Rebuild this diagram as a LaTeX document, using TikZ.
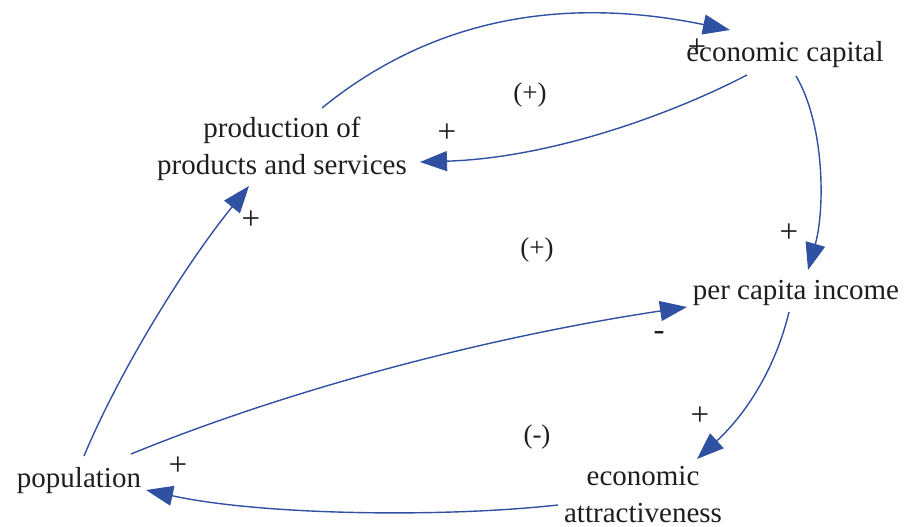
\documentclass[tikz,border=0pt]{standalone}
\usepackage{fontspec}
\setmainfont{Liberation Serif}
\usetikzlibrary{arrows.meta}
\definecolor{linkblue}{RGB}{48,80,162}
\definecolor{txt}{RGB}{30,30,30}
\begin{document}
\begin{tikzpicture}[x=1pt,y=-1pt,
  var/.style={text=txt,font=\fontsize{29}{37}\selectfont,align=center,inner sep=0pt},
  sgn/.style={text=txt,font=\fontsize{33}{33}\selectfont,inner sep=0pt},
  loopl/.style={text=txt,font=\fontsize{27}{30}\selectfont,inner sep=0pt},
  link/.style={draw=linkblue,line width=1.4pt,-{Triangle[length=27pt,width=20pt]}}]
\useasboundingbox (0,0) rectangle (906,527);
\node[var] (ecap) at (785,55) {economic capital};
\node[var] (prod) at (282,149) {production of\\products and services};
\node[var] (pci) at (796,293) {per capita income};
\node[var] (pop) at (79,481) {population};
\node[var] (eatt) at (643,495) {economic\\attractiveness};
\node[loopl] (l1) at (530,95) {(+)};
\node[loopl] (l2) at (537,250) {(+)};
\node[loopl] (l3) at (537,437) {(-)};
\node[sgn] (s1) at (697,48) {+};
\node[sgn] (s2) at (447,133) {+};
\node[sgn] (s3) at (251,220) {+};
\node[sgn] (s4) at (789,233) {+};
\node[sgn] (s5) at (659,336) {-};
\node[sgn] (s6) at (700,416) {+};
\node[sgn] (s7) at (178,466) {+};
% production -> economic capital
\draw[link] ([shift={(40,-41)}]prod.center) .. controls (430,20) and (560,-5) .. ([shift={(-55,-25)}]ecap.center);
% economic capital -> production
\draw[link] ([shift={(-38,20)}]ecap.center) .. controls (670,115) and (550,158) .. ([shift={(138,13)}]prod.center);
% economic capital -> per capita income
\draw[link] ([shift={(11,21)}]ecap.center) .. controls (825,125) and (825,210) .. ([shift={(12,-23)}]pci.center);
% per capita income -> economic attractiveness
\draw[link] ([shift={(-7,19)}]pci.center) .. controls (775,370) and (745,415) .. ([shift={(54,-36)}]eatt.center);
% population -> per capita income
\draw[link] ([shift={(52,-27)}]pop.center) .. controls (300,385) and (500,335) .. ([shift={(-109,14)}]pci.center);
% economic attractiveness -> population
\draw[link] ([shift={(-85,10)}]eatt.center) .. controls (440,518) and (260,515) .. ([shift={(67,9)}]pop.center);
% population -> production
\draw[link] ([shift={(5,-25)}]pop.center) .. controls (120,370) and (185,265) .. ([shift={(-33,37)}]prod.center);
\end{tikzpicture}
\end{document}
